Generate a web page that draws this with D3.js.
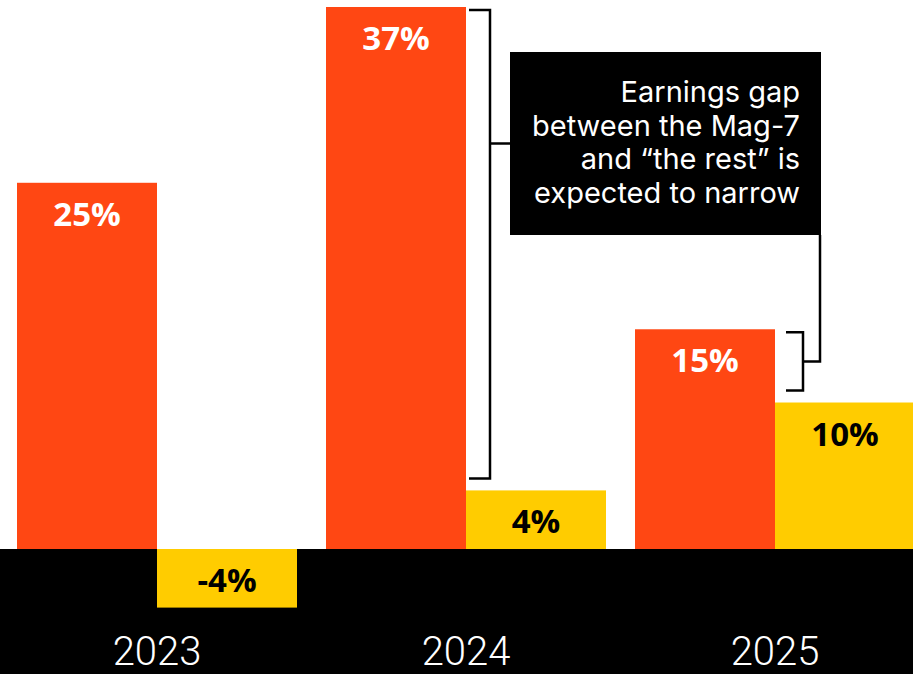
<!DOCTYPE html>
<html>
<head>
<meta charset="utf-8">
<script src="https://cdn.jsdelivr.net/npm/d3@7"></script>
<style>
  body { margin: 0; background: #fff; }
  svg { display: block; }
  .bar_label { font-family: "Open Sans", sans-serif; font-weight: 700; font-size: 33px; text-anchor: middle; }
  .year_label { font-family: Roboto, sans-serif; font-weight: 300; font-size: 40px; fill: #fff; text-anchor: middle; }
  .note { font-family: Inter, "Noto Sans", sans-serif; font-weight: 400; font-size: 29px; fill: #fff; text-anchor: end; }
</style>
</head>
<body>
<div id="chart"></div>
<script>
var years = ["2023", "2024", "2025"];
var mag7 = [25, 37, 15];
var rest = [-4, 4, 10];
var noteLines = ["Earnings gap", "between the Mag-7", "and \u201cthe rest\u201d is", "expected to narrow"];

var width = 913, height = 674;
var orange = "#FF4713", yellow = "#FFCC00";

var svg = d3.select("#chart").append("svg")
    .attr("width", width)
    .attr("height", height);

var x = d3.scaleBand()
    .domain(years)
    .range([17, 915])
    .paddingInner(29 / 309)
    .paddingOuter(0);

var sub = d3.scaleBand()
    .domain(["mag7", "rest"])
    .range([0, x.bandwidth()]);

var y = d3.scaleLinear()
    .domain([0, 37])
    .range([549, 7]);

// black band below zero
svg.append("rect")
    .attr("x", 0)
    .attr("y", y(0))
    .attr("width", width)
    .attr("height", height - y(0))
    .attr("fill", "#000");

var rows = years.map(function(yr, i) {
    return {year: yr, mag7: mag7[i], rest: rest[i]};
});

var groups = svg.selectAll("g.year")
    .data(rows)
    .enter().append("g")
    .attr("class", "year")
    .attr("transform", function(d) { return "translate(" + x(d.year) + ",0)"; });

["mag7", "rest"].forEach(function(key) {
    var col = key == "mag7" ? orange : yellow;
    groups.append("rect")
        .attr("x", sub(key))
        .attr("y", function(d) { return y(Math.max(0, d[key])); })
        .attr("width", sub.bandwidth())
        .attr("height", function(d) { return Math.abs(y(d[key]) - y(0)); })
        .attr("fill", col);

    groups.append("text")
        .attr("class", "bar_label")
        .attr("x", sub(key) + sub.bandwidth() / 2)
        .attr("y", function(d) { return y(Math.max(0, d[key])) + 43; })
        .attr("fill", key == "mag7" ? "#fff" : "#000")
        .text(function(d) { return d[key] + "%"; });
});

// year labels
svg.selectAll("text.year_label")
    .data(years)
    .enter().append("text")
    .attr("class", "year_label")
    .attr("x", function(d) { return x(d) + x.bandwidth() / 2; })
    .attr("y", 665)
    .text(function(d) { return d; });

// note box
var box = {x: 510, y: 52, w: 311, h: 183};
svg.append("rect")
    .attr("x", box.x).attr("y", box.y)
    .attr("width", box.w).attr("height", box.h)
    .attr("fill", "#000");

svg.selectAll("text.note")
    .data(noteLines)
    .enter().append("text")
    .attr("class", "note")
    .attr("x", 800)
    .attr("y", function(d, i) { return 102 + i * 33.7; })
    .text(function(d) { return d; });

// brackets
function bracket(i, x0, x1) {
    var top = y(mag7[i]) + 3, bot = y(rest[i]) - 12;
    return {x0: x0, x1: x1, top: top, bot: bot, mid: (top + bot) / 2};
}
var b24 = bracket(1, x("2024") + sub("rest") + 3, x("2024") + sub("rest") + 24);
var b25 = bracket(2, x("2025") + sub("rest") + 11, x("2025") + sub("rest") + 28);
var boxMid = box.y + box.h / 2;

var line = d3.line();
[b24, b25].forEach(function(b) {
    svg.append("path")
        .attr("d", line([[b.x0, b.top], [b.x1, b.top], [b.x1, b.bot], [b.x0, b.bot]]))
        .attr("fill", "none")
        .attr("stroke", "#000")
        .attr("stroke-width", 2.5);
});
svg.append("path")
    .attr("d", line([[b24.x1, boxMid], [box.x, boxMid]]))
    .attr("fill", "none").attr("stroke", "#000").attr("stroke-width", 2.5);
svg.append("path")
    .attr("d", line([[b25.x1, b25.mid], [box.x + box.w - 1, b25.mid], [box.x + box.w - 1, box.y + box.h]]))
    .attr("fill", "none").attr("stroke", "#000").attr("stroke-width", 2.5);
</script>
</body>
</html>
